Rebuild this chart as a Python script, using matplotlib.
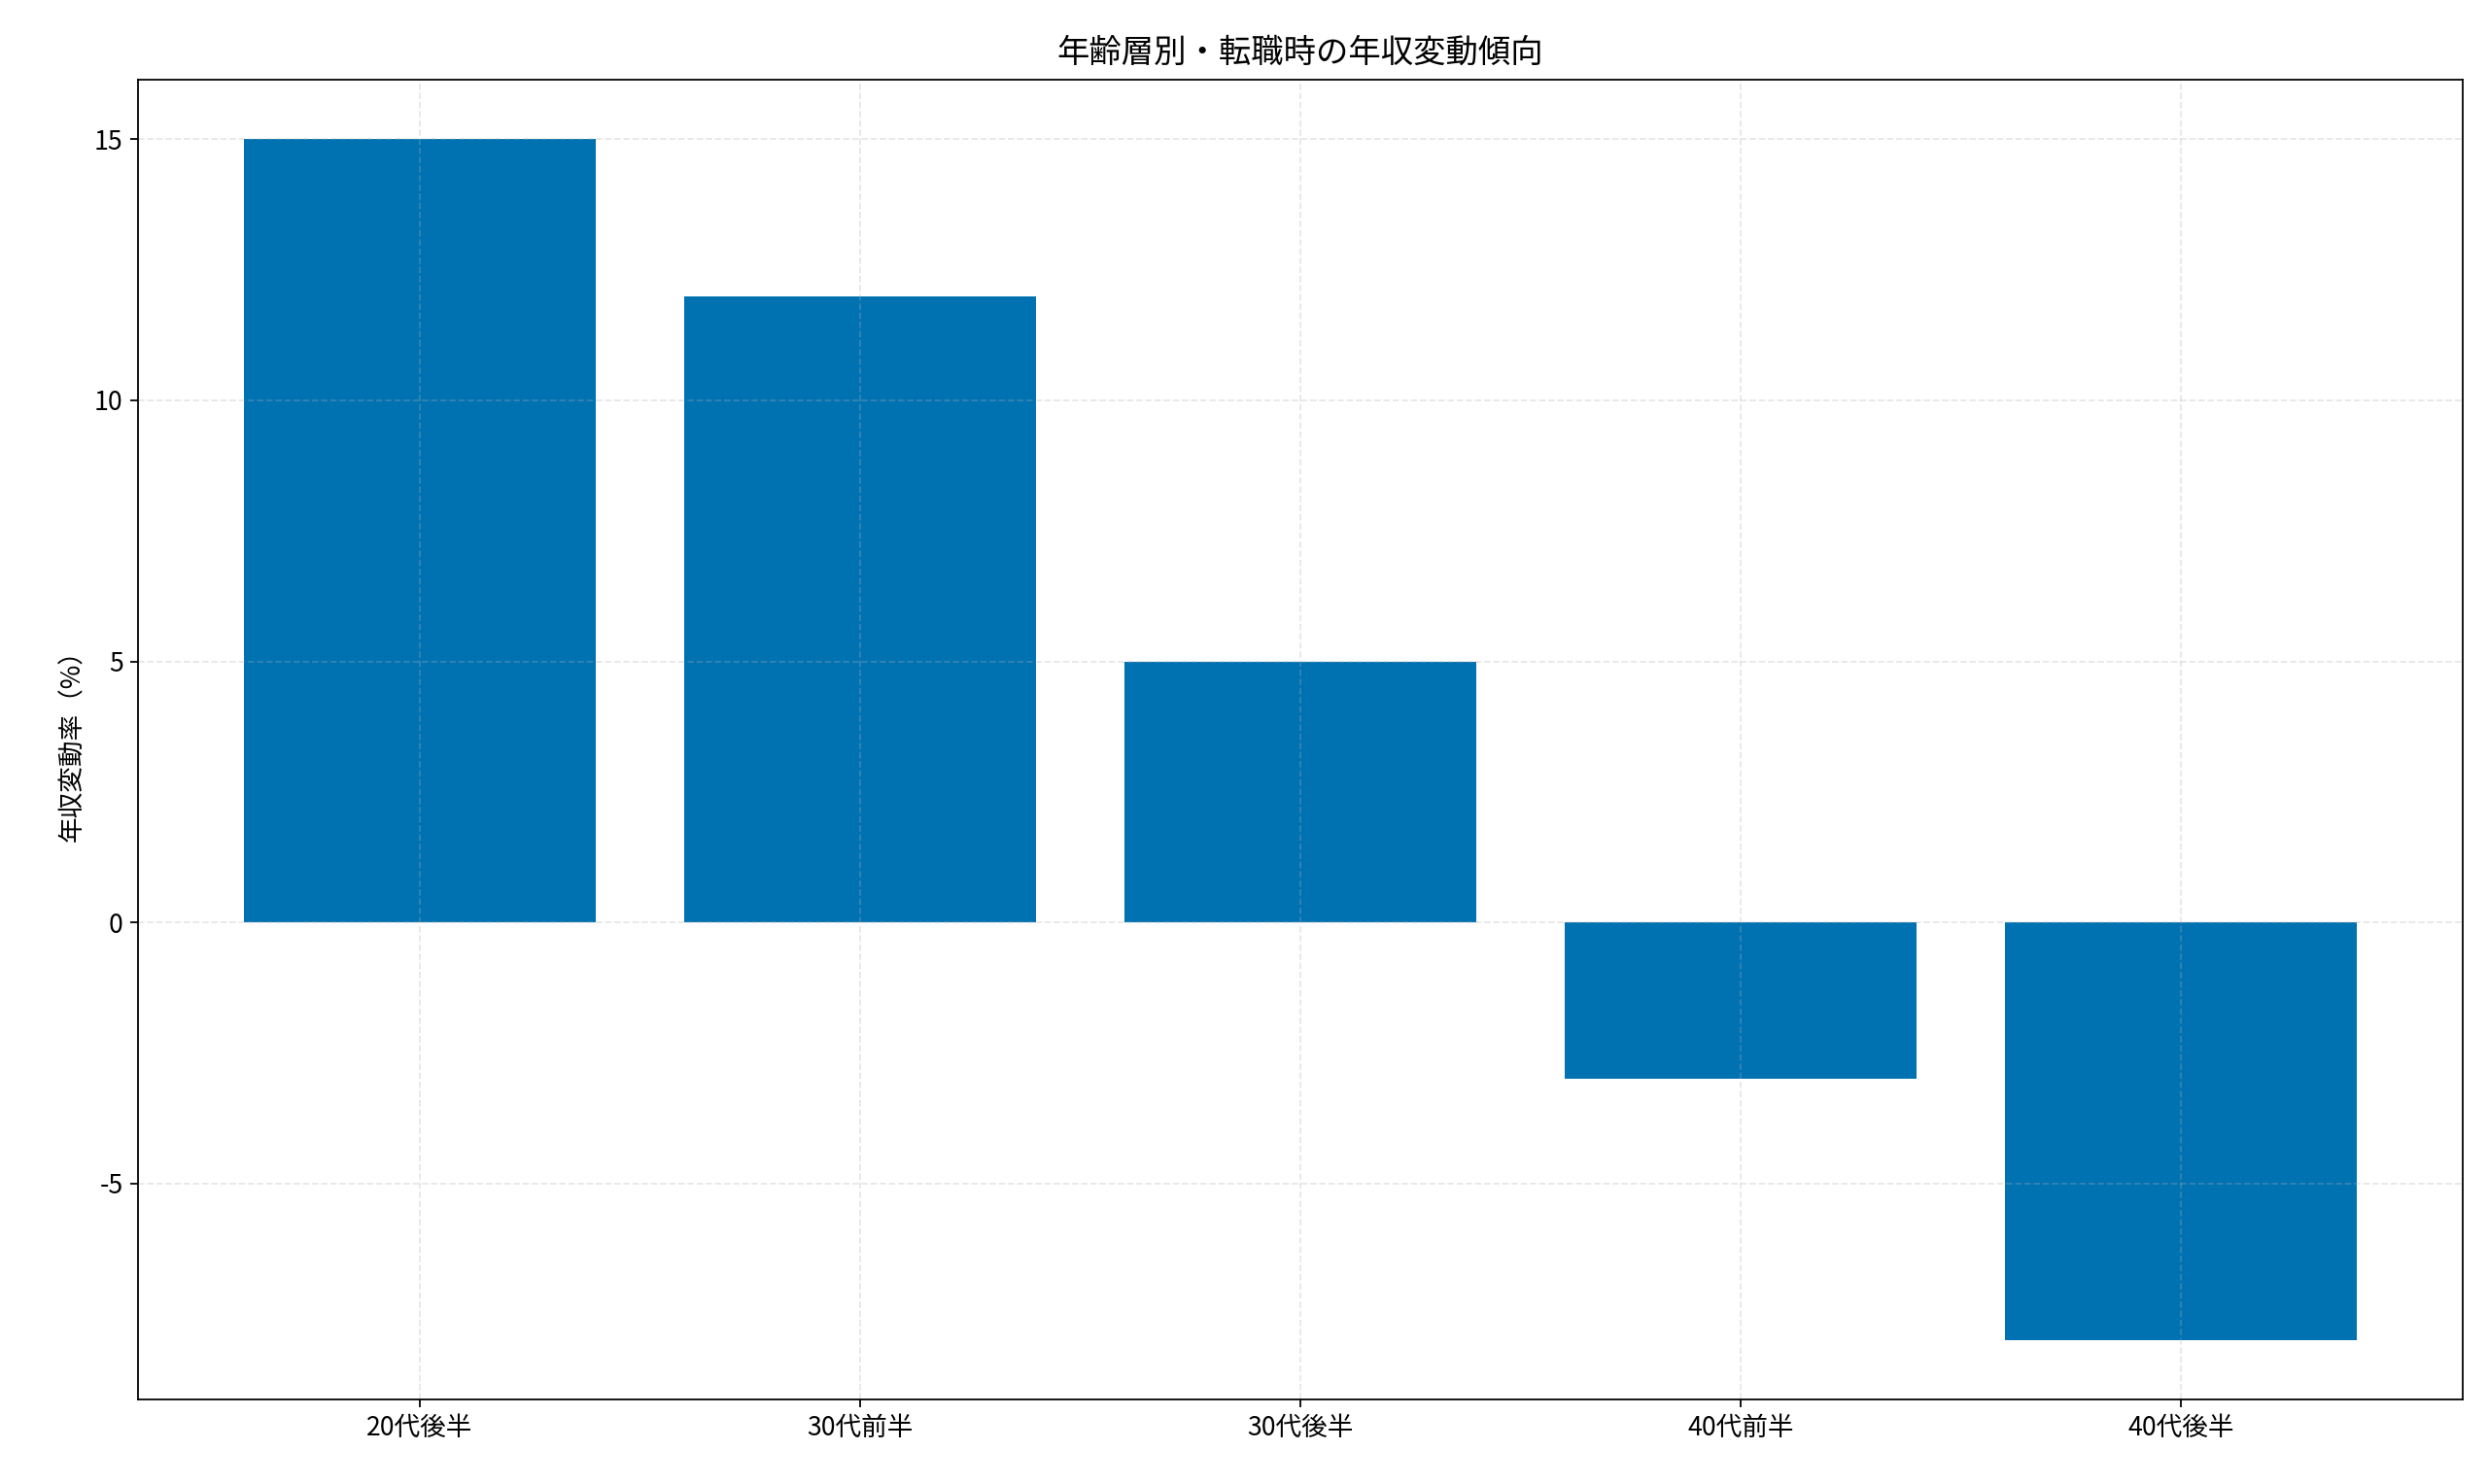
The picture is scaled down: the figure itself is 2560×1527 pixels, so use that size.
import matplotlib
matplotlib.use("Agg")
import matplotlib.pyplot as plt

categories = ["20代後半", "30代前半", "30代後半", "40代前半", "40代後半"]
values = [15, 12, 5, -3, -8]

plt.rcParams['font.family'] = ['Noto Sans CJK JP', 'DejaVu Sans']
plt.rcParams['axes.unicode_minus'] = False

fig = plt.figure(figsize=(16, 9.54375), dpi=160)
ax = fig.add_axes([0.0555, 0.0567, 0.9343, 0.8898])
ax.bar(categories, values, color='#0072B2', width=0.8)
ax.grid(True, linestyle='--', alpha=0.3)
ax.set_ylabel('年収変動率（%）', fontsize=12)
ax.set_title('年齢層別・転職時の年収変動傾向', fontsize=15, pad=8)
ax.tick_params(labelsize=12)
fig.savefig('out.png', dpi=160)
